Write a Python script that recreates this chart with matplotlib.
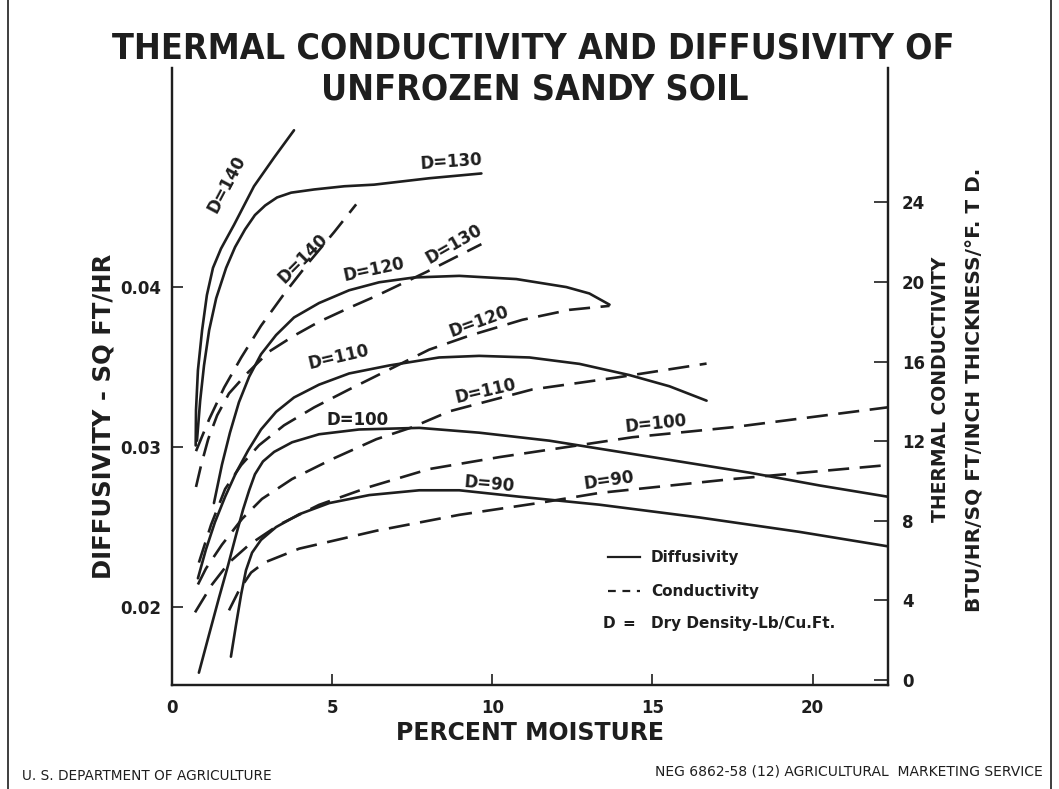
import numpy as np
import matplotlib
matplotlib.use("Agg")
import matplotlib.pyplot as plt

# ---------------- data ----------------
# diffusivity, sq ft/hr (solid lines), by dry density D
diff_140_x = [0.74, 0.75, 0.81, 0.94, 1.09, 1.28, 1.53, 1.94, 2.56, 3.19, 3.81]
diff_140_y = [0.0301, 0.0323, 0.0348, 0.0373, 0.0395, 0.0412, 0.0424, 0.0439, 0.0463, 0.0481, 0.0498]

diff_130_x = [0.78, 0.88, 1.00, 1.16, 1.38, 1.69, 1.97, 2.28, 2.59, 2.91, 3.28, 3.72, 4.44, 5.38, 6.31, 8.03, 9.66]
diff_130_y = [0.0304, 0.0329, 0.0351, 0.0373, 0.0393, 0.0412, 0.0425, 0.0436, 0.0445, 0.0451,
              0.0456, 0.0459, 0.0461, 0.0463, 0.0464, 0.0468, 0.0471]

diff_120_x = [1.31, 1.56, 1.81, 2.09, 2.41, 2.78, 3.25, 3.81, 4.59, 5.53, 6.47, 7.56, 8.97, 10.75, 12.31, 13.03, 13.66]
diff_120_y = [0.0265, 0.0289, 0.0309, 0.0328, 0.0344, 0.0358, 0.0370, 0.0381, 0.0390, 0.0398,
              0.0403, 0.0406, 0.0407, 0.0405, 0.0400, 0.0396, 0.0389]

diff_110_x = [0.81, 1.06, 1.34, 1.66, 2.0, 2.38, 2.78, 3.25, 3.81, 4.59, 5.53, 6.78, 8.34, 9.59,
              11.16, 12.72, 14.28, 15.53, 16.69]
diff_110_y = [0.0218, 0.0236, 0.0253, 0.0269, 0.0284, 0.0298, 0.0311, 0.0322, 0.0331, 0.0339,
              0.0346, 0.0351, 0.0356, 0.0357, 0.0356, 0.0352, 0.0345, 0.0338, 0.0329]

diff_100_x = [0.84, 1.16, 1.47, 1.75, 2.0, 2.22, 2.41, 2.59, 2.84, 3.19, 3.75, 4.59, 5.84, 7.72,
              9.59, 11.78, 14.91, 18.03, 20.22, 22.34]
diff_100_y = [0.0159, 0.0183, 0.0206, 0.0226, 0.0245, 0.0261, 0.0273, 0.0283, 0.0291, 0.0297,
              0.0303, 0.0308, 0.0311, 0.0312, 0.0309, 0.0304, 0.0294, 0.0284, 0.0276, 0.0269]

diff_90_x = [1.84, 2.0, 2.16, 2.31, 2.5, 2.78, 3.25, 3.97, 4.91, 6.16, 7.72, 8.97, 10.84, 13.34,
             16.47, 19.59, 22.34]
diff_90_y = [0.0169, 0.0189, 0.0208, 0.0223, 0.0234, 0.0242, 0.0250, 0.0258, 0.0265, 0.0270,
             0.0273, 0.0273, 0.0269, 0.0264, 0.0256, 0.0247, 0.0238]

# thermal conductivity, BTU/hr/sq ft/inch/deg F (dashed lines)
cond_140_x = [0.75, 1.16, 1.63, 2.16, 2.78, 3.5, 4.28, 5.06, 5.75]
cond_140_y = [11.5, 13.1, 14.7, 16.2, 17.8, 19.4, 21.0, 22.5, 23.9]

cond_130_x = [0.75, 0.91, 1.13, 1.41, 1.78, 2.34, 3.03, 3.81, 4.59, 5.53, 6.38, 7.94, 9.66]
cond_130_y = [9.7, 10.8, 12.1, 13.3, 14.4, 15.4, 16.5, 17.3, 18.0, 18.7, 19.3, 20.5, 21.9]

cond_120_x = [0.84, 1.22, 1.66, 2.16, 2.72, 3.5, 4.44, 5.53, 6.78, 8.03, 9.28, 10.94, 12.41, 13.66]
cond_120_y = [5.9, 7.8, 9.6, 10.8, 11.8, 12.8, 13.7, 14.6, 15.6, 16.6, 17.3, 18.1, 18.6, 18.8]

cond_110_x = [0.81, 1.06, 1.56, 2.19, 2.81, 3.75, 5.0, 6.38, 7.5, 8.66, 11.25, 13.88, 16.69]
cond_110_y = [4.8, 5.6, 6.8, 8.1, 9.1, 10.1, 11.1, 12.1, 12.7, 13.5, 14.6, 15.2, 15.9]

cond_100_x = [0.72, 1.25, 1.78, 2.41, 3.34, 4.59, 6.16, 8.03, 10.22, 14.38, 17.5, 22.34]
cond_100_y = [3.4, 4.8, 5.9, 6.8, 7.8, 8.8, 9.7, 10.6, 11.2, 12.2, 12.7, 13.7]

cond_90_x = [1.78, 2.09, 2.47, 2.88, 3.97, 6.38, 8.97, 11.47, 13.34, 17.5, 22.34]
cond_90_y = [3.5, 4.5, 5.4, 5.9, 6.6, 7.5, 8.3, 8.9, 9.4, 10.1, 10.8]

x_ticks = [0, 5, 10, 15, 20]
diff_ticks = [0.02, 0.03, 0.04]
diff_labels = ['0.02', '0.03', '0.04']
cond_ticks = [0, 4, 8, 12, 16, 20, 24]

ink = '#1e1e1e'
dash = (0, (8, 4))

fig = plt.figure(figsize=(10.59, 7.89), dpi=100)
ax = fig.add_axes([0.1624, 0.1318, 0.676, 0.782])
ax2 = ax.twinx()

solids = [(diff_140_x, diff_140_y), (diff_130_x, diff_130_y), (diff_120_x, diff_120_y),
          (diff_110_x, diff_110_y), (diff_100_x, diff_100_y), (diff_90_x, diff_90_y)]
for xs, ys in solids:
    ax.plot(xs, ys, color=ink, lw=1.9, solid_capstyle='round', solid_joinstyle='round')

dashed = [(cond_140_x, cond_140_y), (cond_130_x, cond_130_y), (cond_120_x, cond_120_y),
          (cond_110_x, cond_110_y), (cond_100_x, cond_100_y), (cond_90_x, cond_90_y)]
for xs, ys in dashed:
    ax2.plot(xs, ys, color=ink, lw=1.9, linestyle=dash)

ax.set_xlim(0, 22.35)
ax.set_ylim(0.01513, 0.05369)
ax2.set_ylim(-0.25, 30.75)

ax.set_xticks(x_ticks)
ax.set_yticks(diff_ticks)
ax.set_yticklabels(diff_labels)
ax2.set_yticks(cond_ticks)
ax.tick_params(direction='in', length=8, width=1.2, colors=ink, labelsize=12, pad=8)
ax2.tick_params(direction='in', length=10, width=1.2, colors=ink, labelsize=12, pad=10)
ax.tick_params(axis='x', pad=10)
for t in ax.get_xticklabels() + ax.get_yticklabels() + ax2.get_yticklabels():
    t.set_fontweight('bold')

for a in (ax, ax2):
    a.spines['top'].set_visible(False)
    for s in ('left', 'right', 'bottom'):
        a.spines[s].set_color(ink)
        a.spines[s].set_linewidth(1.6)

# curve labels
lab = dict(color=ink, fontsize=12, ha='center', va='center', fontweight='bold')
ax.text(1.72, 0.0464, 'D=140', rotation=62, **lab)
ax.text(8.72, 0.0478, 'D=130', rotation=4, **lab)
ax.text(6.3, 0.0411, 'D=120', rotation=12, **lab)
ax.text(5.2, 0.0356, 'D=110', rotation=13, **lab)
ax.text(5.8, 0.0317, 'D=100', rotation=0, **lab)
ax.text(9.9, 0.0277, 'D=90', rotation=-5, **lab)
ax2.text(4.1, 21.2, 'D=140', rotation=45, **lab)
ax2.text(8.8, 21.9, 'D=130', rotation=30, **lab)
ax2.text(9.6, 18.0, 'D=120', rotation=20, **lab)
ax2.text(9.8, 14.5, 'D=110', rotation=13, **lab)
ax2.text(15.1, 12.9, 'D=100', rotation=6, **lab)
ax2.text(13.65, 10.0, 'D=90', rotation=8, **lab)

# legend block
ax.plot([13.6, 14.6], [0.0231, 0.0231], color=ink, lw=1.6)
ax.plot([13.6, 14.6], [0.0210, 0.0210], color=ink, lw=1.6, linestyle=(0, (3.5, 3)))
leg = dict(color=ink, fontsize=11, ha='left', va='center', fontweight='bold')
ax.text(14.95, 0.0231, 'Diffusivity', **leg)
ax.text(14.95, 0.0210, 'Conductivity', **leg)
ax.text(13.45, 0.0190, 'D', **leg)
ax.text(14.05, 0.0190, '=', **leg)
ax.text(14.95, 0.0190, 'Dry Density-Lb/Cu.Ft.', **leg)

ax.set_xlabel('PERCENT MOISTURE', fontsize=17, fontweight='bold', color=ink, labelpad=3)
fig.text(0.098, 0.472, 'DIFFUSIVITY - SQ FT/HR', rotation=90, ha='center', va='center',
         fontsize=17.5, fontweight='bold', color=ink)
fig.text(0.888, 0.506, 'THERMAL CONDUCTIVITY', rotation=90, ha='center', va='center',
         fontsize=13.5, fontweight='bold', color=ink)
fig.text(0.921, 0.506, 'BTU/HR/SQ FT/INCH THICKNESS/°F. T D.', rotation=90, ha='center',
         va='center', fontsize=14.5, fontweight='bold', color=ink)

# title, narrowed face if there is one, then sized to the printed width
t1 = fig.text(0.504, 0.938, 'THERMAL CONDUCTIVITY AND DIFFUSIVITY OF', fontstretch='condensed',
              ha='center', va='center', fontsize=28, fontweight='bold', color=ink)
t2 = fig.text(0.5045, 0.887, 'UNFROZEN SANDY SOIL', fontstretch='condensed',
              ha='center', va='center', fontsize=28, fontweight='bold', color=ink)
r = fig.canvas.get_renderer()
w = t1.get_window_extent(r).width
if w > 845:
    t1.set_fontsize(28 * 845 / w)
    t2.set_fontsize(28 * 845 / w)

fig.text(0.021, 0.007, 'U. S. DEPARTMENT OF AGRICULTURE', fontsize=9.8, color=ink,
         ha='left', va='bottom')
fig.text(0.985, 0.013, 'NEG 6862-58 (12) AGRICULTURAL  MARKETING SERVICE',
         fontsize=10, color=ink, ha='right', va='bottom')

# frame of the print
fig.add_artist(plt.Line2D([0.008, 0.008], [0.0, 1.0], color=ink, lw=1.2))
fig.add_artist(plt.Line2D([0.992, 0.992], [0.0, 1.0], color=ink, lw=1.2))

fig.savefig('out.png', dpi=100, facecolor='white')
